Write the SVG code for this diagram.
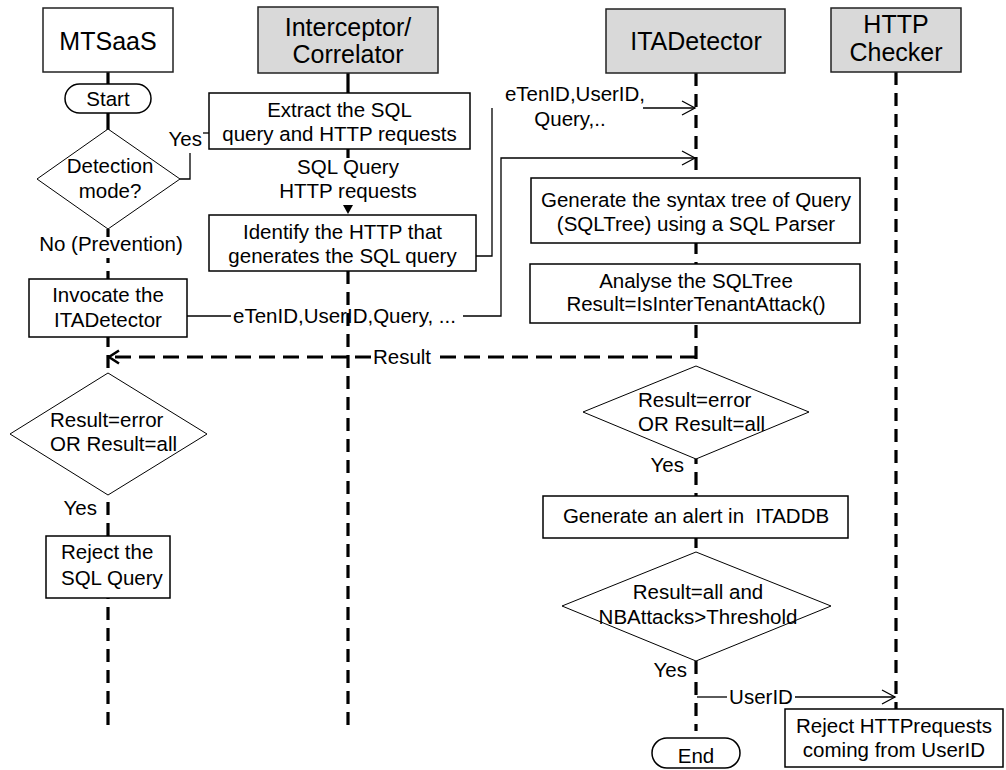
<svg xmlns="http://www.w3.org/2000/svg" width="1006" height="770" viewBox="0 0 1006 770">
  <defs>
    <style>
      text { font-family: "Liberation Sans", Arial, sans-serif; fill: #000; font-size: 20.5px; }
      .hdr { font-size: 25px; text-anchor: middle; }
      .c { text-anchor: middle; }
      .e { text-anchor: end; }
      .actor { fill: #fff; stroke: #222; stroke-width: 1.5; }
      .grey { fill: #d9d9d9; }
      .box { fill: #fff; stroke: #000; stroke-width: 1.5; }
      .dec { fill: #fff; stroke: #000; stroke-width: 1; }
      .life { stroke: #000; stroke-width: 3.2; stroke-dasharray: 13 8; fill: none; }
      .solid { stroke: #000; stroke-width: 3.2; fill: none; }
      .msg { stroke: #000; stroke-width: 1.3; fill: none; }
      .ret { stroke: #000; stroke-width: 3.2; stroke-dasharray: 16 8; fill: none; }
      .bg { fill: #fff; }
    </style>
    <marker id="open" markerWidth="16" markerHeight="16" refX="14" refY="8" orient="auto" markerUnits="userSpaceOnUse">
      <path d="M1,1 L14,8 L1,15" fill="none" stroke="#000" stroke-width="1.3"/>
    </marker>
    <marker id="openBold" markerWidth="16" markerHeight="16" refX="12" refY="8" orient="auto" markerUnits="userSpaceOnUse">
      <path d="M2,1.5 L12,8 L2,14.5" fill="none" stroke="#000" stroke-width="2.6"/>
    </marker>
  </defs>

  <rect x="0" y="0" width="1006" height="770" fill="#fff"/>

  <!-- lifelines and messages -->
  <g id="connectors">
    <!-- lifelines -->
    <line class="solid" x1="108" y1="72" x2="108" y2="130"/>
    <line class="life" x1="108" y1="229" x2="108" y2="725"/>
    <line class="solid" x1="348" y1="73" x2="348" y2="158"/>
    <line class="life" x1="348" y1="271" x2="348" y2="725"/>
    <line class="life" x1="696" y1="73" x2="696" y2="731"/>
    <line class="life" x1="896" y1="72" x2="896" y2="709"/>

    <!-- Detection mode? -> Yes -> Extract -->
    <polyline class="msg" points="180,179 190,179 190,153"/>
    <line class="msg" x1="203" y1="133" x2="209" y2="133"/>

    <!-- Extract -> Identify -->
    <polygon points="343,205 353,205 348,214" fill="#000"/>

    <!-- Identify -> ITADetector -->
    <polyline class="msg" points="476,256 492,256 492,108"/>
    <line class="msg" x1="643" y1="108" x2="695" y2="108" marker-end="url(#open)"/>

    <!-- Invocate -> ITADetector -->
    <line class="msg" x1="187" y1="316" x2="231" y2="316"/>
    <polyline class="msg" points="463,316 501,316 501,158 695,158" marker-end="url(#open)"/>

    <!-- Result back to MTSaaS -->
    <line class="ret" x1="696" y1="357" x2="433" y2="357"/>
    <line class="ret" x1="371" y1="357" x2="109" y2="357" marker-end="url(#openBold)"/>

    <!-- UserID -> HTTP Checker -->
    <line class="msg" x1="697" y1="697" x2="727" y2="697"/>
    <line class="msg" x1="795" y1="697" x2="895" y2="697" marker-end="url(#open)"/>
  </g>

  <!-- participants -->
  <g id="hdr-mtsaas">
    <rect class="actor" x="43" y="8" width="130" height="64"/>
    <text class="hdr" x="108" y="50">MTSaaS</text>
  </g>
  <g id="hdr-interceptor">
    <rect class="actor grey" x="258" y="7" width="180" height="66"/>
    <text class="hdr" x="348" y="36">Interceptor/</text>
    <text class="hdr" x="348" y="63">Correlator</text>
  </g>
  <g id="hdr-itadetector">
    <rect class="actor grey" x="606" y="9" width="179" height="64"/>
    <text class="hdr" x="696" y="50">ITADetector</text>
  </g>
  <g id="hdr-httpchecker">
    <rect class="actor grey" x="831" y="8" width="130" height="64"/>
    <text class="hdr" x="896" y="33">HTTP</text>
    <text class="hdr" x="896" y="61">Checker</text>
  </g>

  <!-- MTSaaS flow -->
  <g id="start">
    <rect class="box" x="65" y="84" width="86" height="29" rx="14.5" stroke-width="1.2"/>
    <text class="c" x="108" y="106">Start</text>
  </g>
  <g id="detection-mode">
    <polygon class="dec" points="108,129 180,179 108,229 37,179"/>
    <text class="c" x="110" y="173">Detection</text>
    <text class="c" x="110" y="198">mode?</text>
  </g>
  <g id="invocate">
    <rect class="box" x="29" y="279" width="158" height="58"/>
    <text class="c" x="108" y="302">Invocate the</text>
    <text class="c" x="108" y="327">ITADetector</text>
  </g>
  <g id="mts-result-check">
    <polygon class="dec" points="108,373 207,434 108,495 10,434"/>
    <text x="50" y="427">Result=error</text>
    <text x="50" y="451">OR Result=all</text>
  </g>
  <g id="reject-sql">
    <rect class="box" x="46" y="536" width="124" height="62"/>
    <text x="61" y="559">Reject the</text>
    <text x="61" y="585">SQL Query</text>
  </g>

  <!-- Interceptor flow -->
  <g id="extract">
    <rect class="box" x="209" y="93" width="261" height="56"/>
    <text class="c" x="339.5" y="117">Extract the SQL</text>
    <text class="c" x="339.5" y="141">query and HTTP requests</text>
  </g>
  <g id="identify">
    <rect class="box" x="209" y="215" width="267" height="56"/>
    <text class="c" x="342.5" y="239">Identify the HTTP that</text>
    <text class="c" x="342.5" y="263">generates the SQL query</text>
  </g>

  <!-- ITADetector flow -->
  <g id="gen-tree">
    <rect class="box" x="531" y="178" width="329" height="65"/>
    <text class="c" x="696" y="207">Generate the syntax tree of Query</text>
    <text class="c" x="696" y="231">(SQLTree) using a SQL Parser</text>
  </g>
  <g id="analyse">
    <rect class="box" x="530" y="264" width="330" height="59"/>
    <text class="c" x="696" y="288">Analyse the SQLTree</text>
    <text class="c" x="696" y="311">Result=IsInterTenantAttack()</text>
  </g>
  <g id="ita-result-check">
    <polygon class="dec" points="696,366 809,412 696,459 583,412"/>
    <text x="638" y="407">Result=error</text>
    <text x="638" y="431">OR Result=all</text>
  </g>
  <g id="alert">
    <rect class="box" x="543" y="496" width="305" height="42"/>
    <text class="c" x="696" y="523" style="white-space:pre">Generate an alert in  ITADDB</text>
  </g>
  <g id="threshold-check">
    <polygon class="dec" points="696,552 831,606 696,661 562,606"/>
    <text class="c" x="698" y="599">Result=all and</text>
    <text class="c" x="698" y="624">NBAttacks&gt;Threshold</text>
  </g>
  <g id="end">
    <rect class="box" x="652" y="738" width="88" height="30" rx="15" stroke-width="1.2"/>
    <text class="c" x="696" y="763">End</text>
  </g>

  <!-- HTTP Checker flow -->
  <g id="reject-http">
    <rect class="box" x="785" y="709" width="218" height="58"/>
    <text class="c" x="894" y="733">Reject HTTPrequests</text>
    <text class="c" x="894" y="757">coming from UserID</text>
  </g>

  <!-- connector labels -->
  <g id="labels">
    <text class="e" x="202" y="146">Yes</text>
    <rect class="bg" x="38" y="237" width="146" height="21"/>
    <text class="c" x="111" y="251">No (Prevention)</text>
    <rect class="bg" x="282" y="158" width="132" height="46"/>
    <text class="c" x="348" y="174">SQL Query</text>
    <text class="c" x="348" y="198">HTTP requests</text>
    <text class="c" x="575" y="101">eTenID,UserID,</text>
    <text class="c" x="570" y="126">Query,..</text>
    <text x="233" y="323">eTenID,UserID,Query, ...</text>
    <text class="c" x="402" y="364">Result</text>
    <text class="e" x="97" y="515">Yes</text>
    <text class="e" x="684" y="472">Yes</text>
    <text class="e" x="687" y="677">Yes</text>
    <text class="c" x="761" y="704">UserID</text>
  </g>
</svg>
